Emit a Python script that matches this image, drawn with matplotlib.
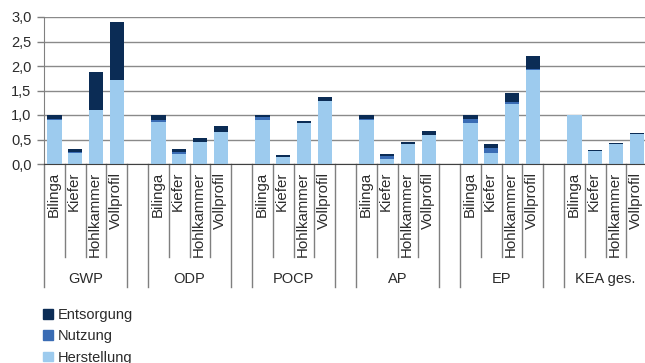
import matplotlib
matplotlib.use("Agg")
import matplotlib.pyplot as plt
from matplotlib.patches import Patch
import numpy as np

plt.rcParams['font.family'] = ['Liberation Sans', 'DejaVu Sans']

# Impact categories and window frame variants
groups = ["GWP", "ODP", "POCP", "AP", "EP", "KEA ges."]
variants = ["Bilinga", "Kiefer", "Hohlkammer", "Vollprofil"]

# Life-cycle phase contributions per category (rows) and variant (columns)
herstellung = [
    [0.89, 0.23, 1.10, 1.72],   # GWP
    [0.85, 0.21, 0.44, 0.66],   # ODP
    [0.89, 0.15, 0.83, 1.28],   # POCP
    [0.90, 0.11, 0.40, 0.60],   # AP
    [0.83, 0.23, 1.22, 1.92],   # EP
    [0.99, 0.27, 0.40, 0.62],   # KEA ges.
]
nutzung = [
    [0.03, 0.01, 0.00, 0.00],
    [0.04, 0.03, 0.00, 0.00],
    [0.06, 0.00, 0.00, 0.00],
    [0.01, 0.05, 0.00, 0.00],
    [0.08, 0.10, 0.04, 0.02],
    [0.00, 0.00, 0.00, 0.00],
]
entsorgung = [
    [0.08, 0.06, 0.78, 1.18],
    [0.12, 0.07, 0.09, 0.12],
    [0.06, 0.04, 0.04, 0.08],
    [0.08, 0.05, 0.04, 0.08],
    [0.08, 0.07, 0.18, 0.26],
    [0.01, 0.02, 0.02, 0.02],
]

phase_labels = ["Herstellung", "Nutzung", "Entsorgung"]
phase_colors = ["#9dcbee", "#3a6cb4", "#0b2c55"]
text_color = "#2b2b2b"
fs = 10.5

W, H, DPI = 645, 363, 100
fig = plt.figure(figsize=(W / DPI, H / DPI), dpi=DPI)

ax_left, ax_right, ax_top, ax_bottom = 44, 645, 17, 164
ax = fig.add_axes([ax_left / W, 1 - ax_bottom / H,
                   (ax_right - ax_left) / W, (ax_bottom - ax_top) / H])

slot = 5  # four bars plus one empty slot per group
positions = np.array([g * slot + i for g in range(len(groups)) for i in range(len(variants))])
h = np.array(herstellung).ravel()
n = np.array(nutzung).ravel()
e = np.array(entsorgung).ravel()

bar_w = 0.69
ax.bar(positions, h, width=bar_w, color=phase_colors[0], label=phase_labels[0], zorder=3)
ax.bar(positions, n, width=bar_w, bottom=h, color=phase_colors[1], label=phase_labels[1], zorder=3)
ax.bar(positions, e, width=bar_w, bottom=h + n, color=phase_colors[2], label=phase_labels[2], zorder=3)

ax.set_xlim(-0.5, 28.39)
ax.set_ylim(0, 3.0)
yt = np.arange(0, 3.01, 0.5)
ax.set_yticks(yt)
ax.set_yticklabels([f"{v:.1f}".replace(".", ",") for v in yt], fontsize=fs, color=text_color)
ax.tick_params(axis="y", length=5, width=1, color="#808080", pad=4)
ax.set_xticks([])
ax.grid(axis="y", color="#8a8a8a", linewidth=1, zorder=0)
for s in ["top", "right"]:
    ax.spines[s].set_visible(False)
ax.spines["left"].set_color("#808080")
ax.spines["bottom"].set_color("#404040")
ax.spines["bottom"].set_zorder(4)

# category axis: separators and labels below the plot
axh = ax_bottom - ax_top
def frac(px_below):
    return -px_below / axh

trans = ax.get_xaxis_transform()
sep_color = "#7f7f7f"
short_end = frac(257 - ax_bottom)
long_end = frac(287 - ax_bottom)
for g, name in enumerate(groups):
    start = g * slot
    # group boundaries (also bound the empty slot after each group)
    for xb in (start - 0.5, start + len(variants) - 0.5):
        ax.plot([xb, xb], [0, long_end], transform=trans, color=sep_color,
                lw=1, clip_on=False)
    for i in range(1, len(variants)):
        xb = start + i - 0.5
        ax.plot([xb, xb], [0, short_end], transform=trans, color=sep_color,
                lw=1, clip_on=False)
    for i, v in enumerate(variants):
        ax.text(start + i - 0.05, frac(172 - ax_bottom), v, rotation=90,
                ha="center", va="top", transform=trans, fontsize=fs + 0.3,
                color=text_color)
    ax.text(start + 1.5, frac(279 - ax_bottom), name, ha="center", va="center",
            transform=trans, fontsize=fs, color=text_color)

handles = [Patch(color=c) for c in phase_colors][::-1]
labels = phase_labels[::-1]
fig.legend(handles, labels, loc="upper left",
           bbox_to_anchor=(43 / W, 1 - 308 / H), frameon=False,
           fontsize=fs, handlelength=0.68, handleheight=0.65,
           handletextpad=0.3, labelspacing=0.5, borderpad=0,
           borderaxespad=0, labelcolor=text_color)

fig.savefig("out.png", dpi=DPI)
